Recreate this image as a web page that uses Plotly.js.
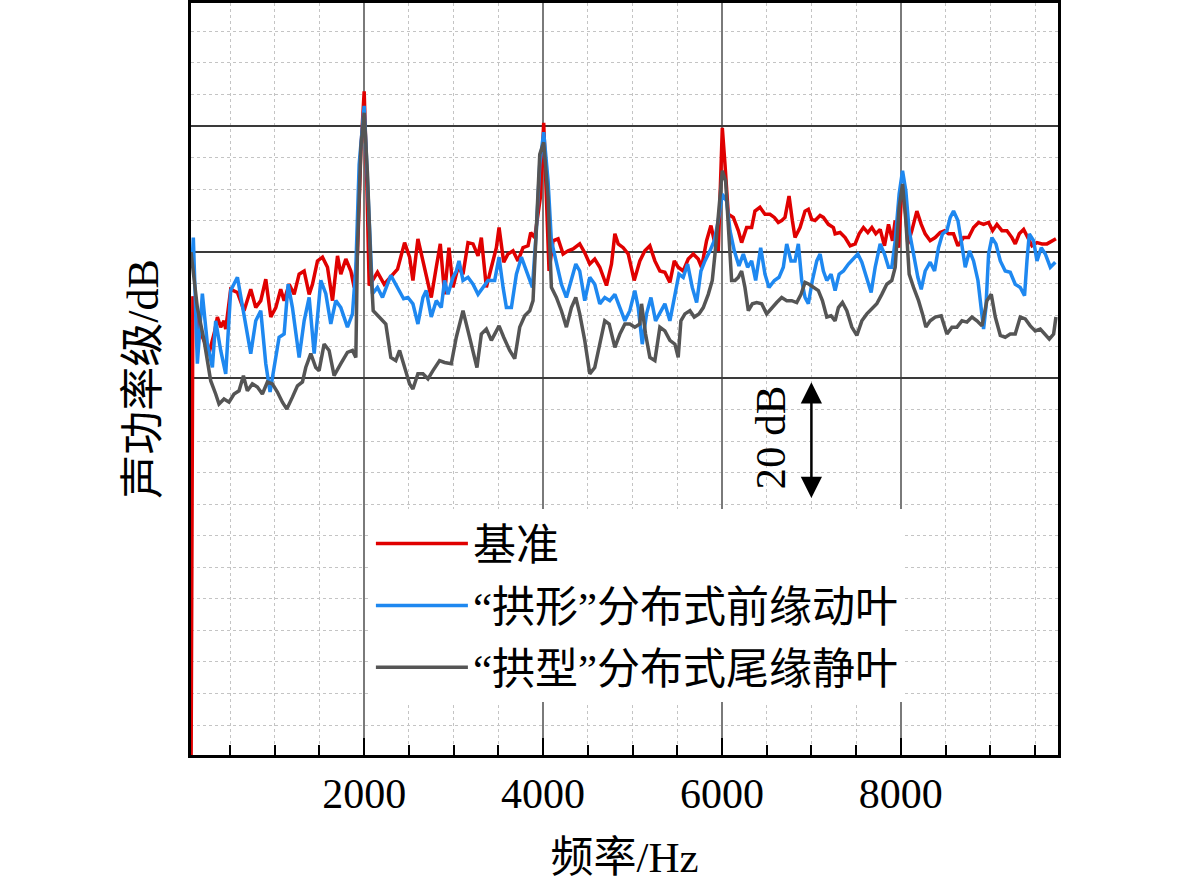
<!DOCTYPE html>
<html>
<head>
<meta charset="utf-8">
<script src="https://cdn.plot.ly/plotly-3.0.1.min.js"></script>
<style>html,body{margin:0;padding:0;background:#fff;}#chart{width:1181px;height:887px;}</style>
</head>
<body>
<div id="chart"></div>
<script>
// 频率 (Hz) 与声功率级 (dB)
const freqBase = [64,85,150,266,330,359,396,433,452,508,583,657,732,788,844,900,956,1012,1067,1105,1161,1217,1273,1329,1385,1422,1478,1534,1590,1646,1702,1739,1795,1851,1888,1925,1963,2000,2030,2056,2093,2149,2224,2298,2373,2452,2508,2545,2601,2657,2713,2750,2806,2851,2899,2948,2993,3049,3105,3161,3217,3273,3310,3366,3422,3478,3508,3560,3608,3664,3720,3776,3832,3862,3907,3944,3970,4007,4037,4067,4112,4168,4224,4280,4336,4410,4466,4522,4578,4634,4709,4765,4803,4840,4896,4952,5019,5082,5138,5194,5250,5306,5362,5418,5467,5511,5567,5623,5679,5735,5772,5828,5877,5914,5959,5989,6004,6034,6071,6127,6183,6220,6276,6332,6369,6425,6481,6537,6586,6630,6668,6705,6750,6787,6817,6873,6929,6966,7003,7041,7097,7134,7190,7246,7265,7321,7377,7433,7489,7534,7582,7631,7676,7720,7769,7817,7862,7907,7937,7974,8004,8041,8078,8123,8179,8228,8272,8328,8384,8440,8489,8533,8589,8638,8701,8757,8813,8869,8925,8981,9026,9074,9130,9186,9242,9279,9324,9373,9421,9466,9522,9578,9634,9690,9734];
const levelBase = [15,93,88,84,87.5,89.7,88.1,89.1,87.8,94.1,93.6,90.7,94.1,91.2,92.3,95.7,89.7,91.2,94.1,92.3,94.9,93.3,96.5,97.0,93.3,94.9,98.6,99.2,97.6,92.3,99.4,96.5,98.9,97.0,94.4,99.7,116,125.5,111,94.7,95.5,96.8,94.9,96.0,97.3,101.5,99.2,95.5,102.1,98.6,94.9,92.8,97.6,101.3,93.3,100.7,94.4,97.6,96.5,101.5,101.3,99.4,102.3,94.4,97.6,100.7,103.9,98.4,99.7,100.2,98.6,100.7,101.0,103.1,102.3,106.0,108.7,120.5,108.7,97.0,101.8,102.1,99.7,100.2,100.5,101.3,99.9,98.1,98.9,97.6,94.7,98.1,102.9,101.3,100.7,99.7,95.5,98.6,100.2,101.0,98.6,97.0,96.8,95.2,98.6,97.6,97.0,98.9,99.7,98.9,97.6,101.8,104.2,101.8,100.2,111.3,119.7,113.9,106.0,105.5,103.4,101.5,103.9,103.9,106.5,107.1,106.0,106.0,105.5,104.7,105.0,105.5,108.9,105.0,102.3,103.9,106.5,106.8,105.2,105.0,105.8,105.5,104.4,103.9,102.9,103.1,102.3,101.0,101.3,102.9,103.9,103.1,103.9,102.9,103.6,101.0,104.4,101.8,105.0,100.7,108.1,108.7,101.3,103.4,106.5,104.4,102.9,101.8,102.3,103.1,103.4,102.9,102.9,101.0,102.3,102.3,103.9,104.7,104.4,104.7,103.4,104.4,103.4,103.4,102.3,101.3,102.9,103.6,102.3,101.0,101.5,101.3,101.3,101.8,102.1];

const freqBlade = [75,90,135,191,247,303,340,396,452,508,583,657,732,788,844,900,948,993,1049,1105,1150,1198,1273,1329,1385,1441,1515,1571,1627,1683,1739,1813,1869,1907,1944,2000,2037,2093,2149,2205,2298,2373,2441,2489,2545,2601,2657,2694,2750,2806,2862,2899,2937,2993,3030,3060,3105,3161,3217,3273,3329,3385,3459,3508,3553,3590,3646,3702,3758,3814,3881,3925,3963,4007,4056,4093,4149,4205,4261,4317,4366,4410,4466,4522,4578,4634,4690,4746,4803,4859,4915,4970,5026,5064,5109,5157,5206,5258,5314,5362,5418,5474,5519,5567,5616,5668,5717,5765,5810,5866,5914,5959,6004,6052,6090,6138,6190,6239,6287,6332,6377,6433,6481,6526,6586,6638,6686,6724,6772,6817,6854,6892,6929,6966,7011,7060,7097,7134,7172,7220,7265,7310,7358,7414,7470,7519,7564,7620,7668,7713,7769,7817,7862,7899,7937,7981,8019,8056,8093,8142,8190,8228,8272,8328,8377,8421,8466,8515,8552,8589,8638,8675,8720,8768,8813,8862,8899,8925,8951,8981,9018,9063,9112,9167,9223,9279,9335,9383,9410,9436,9484,9522,9570,9615,9671,9727];
const levelBlade = [98,102.3,82.3,93.4,85.4,81.7,89.1,84.4,80.7,93.9,96.0,90.2,83.9,89.1,90.7,82.3,77.8,81.7,86.5,87.0,94.9,91.2,83.3,89.1,92.8,83.9,95.5,93.4,88.6,92.3,91.2,88.1,90.2,97.6,113.9,123.2,111.3,93.4,94.4,92.8,96.3,94.4,92.6,92.8,91.8,88.6,92.8,93.9,89.7,92.3,91.2,95.5,93.3,96.0,97.0,98.6,95.5,96.0,94.9,93.3,94.4,95.5,95.5,99.2,94.4,91.2,91.2,96.5,99.2,97.0,94.4,103.4,113.9,119.0,111.3,101.8,98.6,94.9,92.8,95.5,98.1,97.0,92.3,96.0,94.9,91.8,92.8,92.3,93.3,91.2,89.1,90.7,93.9,91.2,85.4,90.2,92.8,89.1,90.7,91.8,89.1,93.3,96.5,96.0,98.1,94.4,92.0,97.0,98.6,100.2,101.8,105.0,109.2,108.1,103.4,100.2,97.8,99.7,97.6,98.6,95.5,100.7,96.5,94.4,95.5,96.0,97.6,101.3,98.6,98.6,101.3,95.5,92.8,91.8,95.5,98.6,99.7,97.0,95.5,96.5,93.9,96.5,97.0,98.1,98.9,99.7,98.4,96.0,93.6,97.6,101.3,99.7,97.6,97.6,101.8,109.2,112.9,109.7,103.4,99.7,96.0,94.1,97.0,98.4,97.0,100.7,102.9,103.4,105.5,106.5,105.0,101.8,97.6,100.2,98.6,95.5,91.2,87.8,91.2,99.7,102.3,101.3,98.6,97.0,96.8,94.9,94.4,93.1,98.6,102.9,101.8,98.6,100.7,99.7,97.6,98.4];

const freqVane = [64,135,210,284,340,377,433,489,545,601,650,694,750,806,862,918,974,1030,1086,1135,1198,1254,1310,1347,1403,1459,1496,1552,1608,1664,1739,1813,1869,1907,1925,1963,2000,2037,2075,2101,2168,2242,2298,2354,2396,2452,2508,2545,2601,2657,2713,2769,2843,2899,2974,3030,3105,3161,3217,3261,3310,3366,3422,3478,3508,3560,3627,3683,3739,3795,3851,3888,3925,3963,4007,4056,4093,4149,4205,4261,4317,4366,4410,4466,4522,4578,4634,4690,4739,4803,4859,4915,4970,5026,5082,5101,5146,5194,5250,5306,5362,5418,5474,5511,5541,5586,5642,5690,5743,5791,5847,5892,5922,5959,6004,6041,6071,6108,6146,6183,6220,6257,6295,6340,6388,6444,6500,6556,6612,6668,6724,6780,6836,6884,6929,6974,7022,7078,7123,7172,7220,7265,7302,7347,7396,7452,7508,7564,7620,7676,7731,7787,7843,7899,7937,7981,8019,8056,8093,8142,8198,8242,8280,8328,8384,8451,8515,8571,8627,8683,8739,8795,8851,8907,8962,9011,9056,9112,9167,9223,9279,9335,9391,9447,9503,9559,9608,9660,9708,9734];
const levelVane = [100,91.2,86.0,79.6,77.5,75.9,76.7,76.2,77.5,78.0,80.4,78.0,79.1,78.6,77.5,79.4,79.1,77.8,76.2,75.1,77.0,78.8,79.4,81.7,83.9,81.7,81.2,85.4,84.4,80.4,82.3,84.1,84.4,83.3,100.7,116.6,122.1,112.4,97.6,90.7,89.7,88.6,83.3,82.8,84.4,81.7,79.1,78.3,80.7,80.7,79.9,81.2,82.8,82.5,82.3,86.5,90.7,87.5,84.4,81.7,87.0,87.8,86.0,87.5,88.3,86.5,84.4,83.1,88.1,89.9,90.7,92.3,103.4,115.5,117.4,108.7,94.4,92.8,90.7,88.1,91.2,92.8,90.2,86.0,80.7,81.7,85.4,89.1,88.6,84.9,87.0,88.6,88.6,88.1,88.6,91.8,87.0,83.3,82.8,88.1,87.5,86.0,85.4,83.3,89.1,90.2,90.7,89.7,90.2,91.2,93.3,95.5,99.7,106.0,112.9,111.3,103.9,95.5,95.5,96.0,97.0,94.4,90.7,91.8,92.0,91.8,90.2,91.2,92.0,92.8,92.3,92.3,92.0,93.3,95.2,94.9,94.4,93.9,92.3,89.7,89.9,89.1,91.2,92.0,90.7,88.1,86.8,89.1,90.2,91.0,91.8,93.3,94.9,95.5,97.6,107.1,110.8,105.0,96.5,94.4,92.3,90.2,88.1,89.1,89.7,89.9,87.0,88.1,88.1,89.1,88.9,89.7,89.1,88.3,92.3,93.3,89.7,86.8,86.5,87.0,87.0,89.7,89.4,88.3,87.5,87.8,87.0,86.2,87.0,89.7];

const seriesNames = ['基准', '“拱形”分布式前缘动叶', '“拱型”分布式尾缘静叶'];
const seriesColors = ['#e00000', '#1e88f0', '#555555'];
const xTickVals = [2000, 4000, 6000, 8000];
const xTickText = ['2000', '4000', '6000', '8000'];
const xTitle = '频率/Hz';
const yTitle = '声功率级/dB';
const scaleLabel = '20 dB';

const FONT = "'Liberation Serif', 'Noto Sans CJK SC', serif";

const traces = [
  {x: freqBase, y: levelBase},
  {x: freqBlade, y: levelBlade},
  {x: freqVane, y: levelVane}
].map((d, i) => ({
  type: 'scatter', mode: 'lines', x: d.x, y: d.y, name: seriesNames[i],
  line: {color: seriesColors[i], width: 3.5}, legendgroup: 'g' + i
}));

const yRange = [20.25, 139.5];

const layout = {
  width: 1181, height: 887,
  margin: {l: 191, r: 123, t: 3, b: 132},
  paper_bgcolor: '#ffffff', plot_bgcolor: '#ffffff',
  font: {family: FONT, color: '#000', size: 40},
  showlegend: true,
  legend: {
    x: 0.2075, y: 0.327, xanchor: 'left', yanchor: 'top',
    bgcolor: '#ffffff', borderwidth: 0,
    font: {family: FONT, size: 43, color: '#000'},
    itemwidth: 92, tracegroupgap: 3
  },
  xaxis: {
    range: [64, 9757], showline: true, linecolor: '#000', linewidth: 3, mirror: true,
    tickmode: 'array', tickvals: xTickVals, ticktext: xTickText,
    ticks: 'inside', ticklen: 17, tickwidth: 2.5, tickcolor: '#000',
    tickfont: {family: FONT, size: 42},
    showgrid: true, gridcolor: '#7a7a7a', gridwidth: 2, zeroline: false,
    minor: {tickmode: 'linear', tick0: 0, dtick: 500, ticks: 'inside', ticklen: 10, tickwidth: 2, tickcolor: '#000',
            showgrid: true, gridcolor: '#c4c4c4', griddash: 'dot', gridwidth: 1},
    title: {text: xTitle, font: {family: FONT, size: 43}, standoff: 26}
  },
  yaxis: {
    range: yRange, showline: true, linecolor: '#000', linewidth: 3, mirror: true,
    tickmode: 'array', tickvals: [80, 100, 120], showticklabels: false, ticks: '',
    showgrid: true, gridcolor: '#3a3a3a', gridwidth: 1.5, zeroline: false,
    minor: {tickmode: 'linear', tick0: 0, dtick: 5, showgrid: true, gridcolor: '#c4c4c4', griddash: 'dot', gridwidth: 1},
    title: {text: yTitle, font: {family: FONT, size: 44}, standoff: 16}
  },
  yaxis2: {
    range: yRange, overlaying: 'y', side: 'left', showline: false,
    tickmode: 'array', tickvals: [40, 60], showticklabels: false, ticks: '',
    showgrid: true, gridcolor: '#a9a9a9', gridwidth: 2, zeroline: false
  },
  annotations: [
    {x: 7000, y: 61, ax: 7000, ay: 79.6, xref: 'x', yref: 'y', axref: 'x', ayref: 'y',
     text: '', showarrow: true, arrowhead: 2, startarrowhead: 2, arrowside: 'end+start',
     arrowsize: 1.7, startarrowsize: 1.7, arrowwidth: 2.5, arrowcolor: '#000'},
    {x: 6538, y: 70.6, xref: 'x', yref: 'y', text: scaleLabel, textangle: -90, showarrow: false,
     font: {family: FONT, size: 43, color: '#000'}}
  ]
};

Plotly.newPlot('chart', traces, layout, {displayModeBar: false, staticPlot: true});
</script>
</body>
</html>
